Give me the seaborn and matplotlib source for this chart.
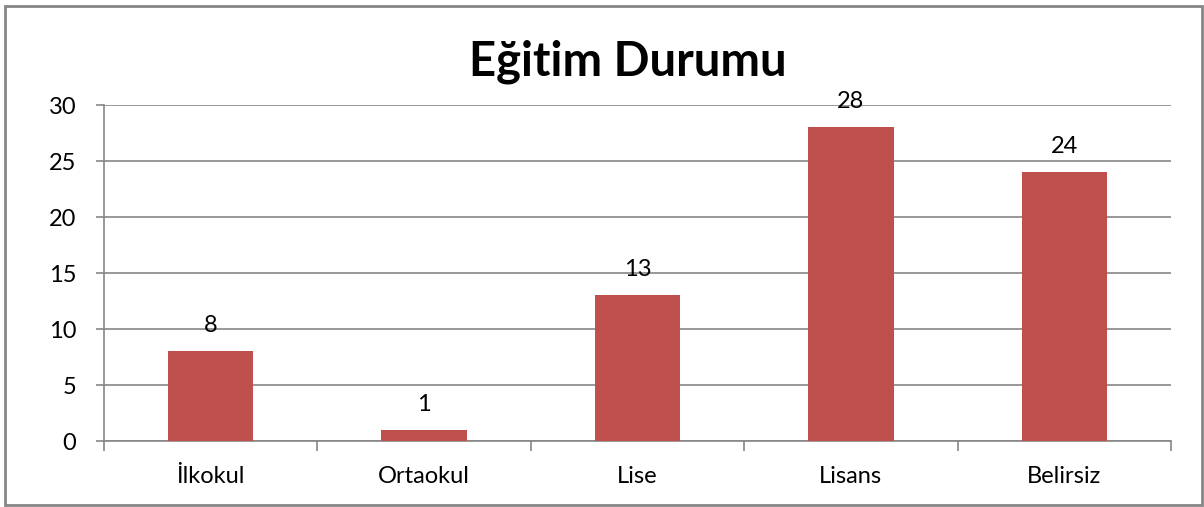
"""Eğitim Durumu bar chart."""
import matplotlib
matplotlib.use("Agg")
import matplotlib.pyplot as plt
import pandas as pd
import seaborn as sns
from matplotlib.patches import Rectangle

categories = ["İlkokul", "Ortaokul", "Lise", "Lisans", "Belirsiz"]
counts = [8, 1, 13, 28, 24]
y_ticks = [0, 5, 10, 15, 20, 25, 30]

BAR_COLOR = "#C0504D"
GRID_COLOR = "#868686"

sns.set_theme(style="white")
plt.rcParams["font.family"] = ["Lato", "DejaVu Sans"]

df = pd.DataFrame({"category": categories, "count": counts})

fig = plt.figure(figsize=(12.04, 5.07), dpi=100)
ax = fig.add_axes([104 / 1204, 1 - 441 / 507, 1067 / 1204, 336 / 507])

sns.barplot(data=df, x="category", y="count", color=BAR_COLOR, width=0.4,
            saturation=1, linewidth=0, ax=ax, zorder=3)

ax.set_ylim(0, 30)
ax.set_xlim(-0.5, len(categories) - 0.5)
ax.set_yticks(y_ticks)
ax.yaxis.grid(True, color=GRID_COLOR, linewidth=1.2, zorder=0)
ax.set_axisbelow(True)
ax.set_xlabel("")
ax.set_ylabel("")

for side in ["top", "right"]:
    ax.spines[side].set_visible(False)
for side in ["left", "bottom"]:
    ax.spines[side].set_color(GRID_COLOR)
    ax.spines[side].set_linewidth(1.2)

# y ticks point outward, x ticks sit on the category boundaries
ax.tick_params(axis="y", which="major", left=True, length=6, width=1.2,
               color=GRID_COLOR, labelsize=17, pad=14, labelcolor="black")
ax.tick_params(axis="x", which="major", bottom=False, labelsize=17,
               pad=12, labelcolor="black")
ax.set_xticks(range(len(categories)), categories)
ax.set_xticks([i - 0.5 for i in range(len(categories) + 1)], minor=True)
ax.tick_params(axis="x", which="minor", bottom=True, length=7, width=1.2,
               color=GRID_COLOR)

ax.bar_label(ax.containers[0], labels=[str(v) for v in counts],
             padding=11, fontsize=17, color="black")

fig.text(628 / 1204, 1 - 62 / 507, "Eğitim Durumu", ha="center", va="center",
         fontsize=34, fontweight="bold", color="black")

# outer chart border
fig.patches.append(Rectangle((5 / 1204, 2 / 507), 1197 / 1204, 499 / 507,
                             transform=fig.transFigure, fill=False,
                             edgecolor=GRID_COLOR, linewidth=2))

fig.savefig("out.png", dpi=100)
